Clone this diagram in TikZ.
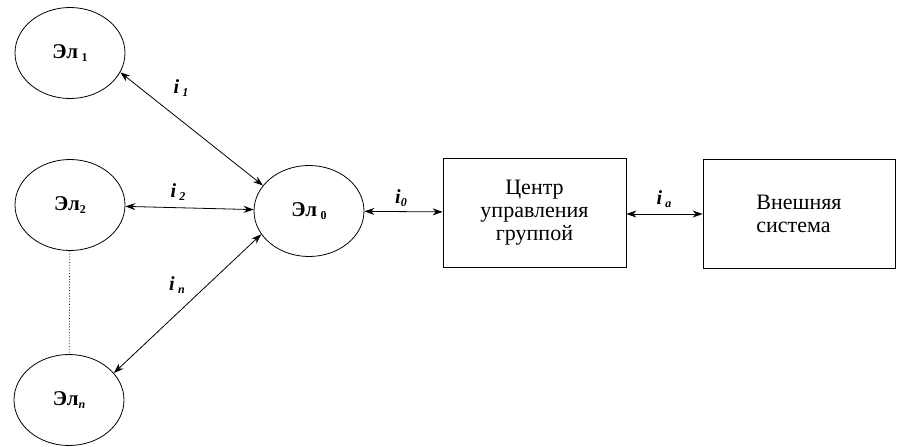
\documentclass[tikz,border=0pt]{standalone}
\usepackage{fontspec}
\setmainfont{Liberation Serif}
\usetikzlibrary{arrows,arrows.meta,positioning,shapes.geometric}
\newcommand{\sub}[1]{{\fontsize{12}{12}\selectfont\raisebox{-3pt}{#1}}}
\tikzset{
    elem/.style={ellipse,draw,thick,minimum width=110pt,minimum height=91pt,font=\fontsize{21}{24}\selectfont\bfseries},
    block/.style={rectangle,draw,thick,minimum width=183pt,minimum height=109pt,align=center,font=\fontsize{22}{23}\selectfont},
    lbl/.style={font=\fontsize{20}{22}\selectfont\bfseries\itshape},
    bi/.style={{Stealth[length=10pt,width=7pt]}-{Stealth[length=10pt,width=7pt]},thick},
    dots/.style={dotted,thick}
}

\begin{document}
\begin{tikzpicture}[x=1pt,y=-1pt]

                \useasboundingbox (0,0) rectangle (897,447);

                \node[elem]  (el 1) at (70,53)   {Эл\,\sub{1}};
                \node[elem]  (el 2) at (70,205)  {Эл\sub{2}};
                \node[elem]  (el n) at (69,400)  {Эл\sub{\itshape n}};
                \node[elem]  (el 0) at (309,211) {Эл\,\sub{0}};

                \node[block] (center) at (534.5,212.5) {\raisebox{6pt}{\begin{tabular}{@{}c@{}}Центр\\управления\\группой\end{tabular}}};
                \node[block,minimum width=192pt,align=left] (ext) at (799,214) {Внешняя\\система};

                \draw[bi] (el 1.-21) -- (el 0.151);
                \draw[bi] (el 2) -- (el 0);
                \draw[bi] (el n.31) -- (el 0.206);
                \draw[bi] (el 0) -- (center);
                \draw[bi] (center.east |- ext.west) -- (ext);

                \node[lbl] (lbl 1) at (181,88)  {i\,\sub{1}};
                \node[lbl] (lbl 2) at (178,192) {i\,\sub{2}};
                \node[lbl] (lbl n) at (177,285) {i\,\sub{n}};
                \node[lbl] (lbl 0) at (401,198) {i\sub{0}};
                \node[lbl] (lbl a) at (664,199) {i\,\sub{a}};

                \draw[dots] (el 2) -- (el n);

            \end{tikzpicture}
\end{document}
